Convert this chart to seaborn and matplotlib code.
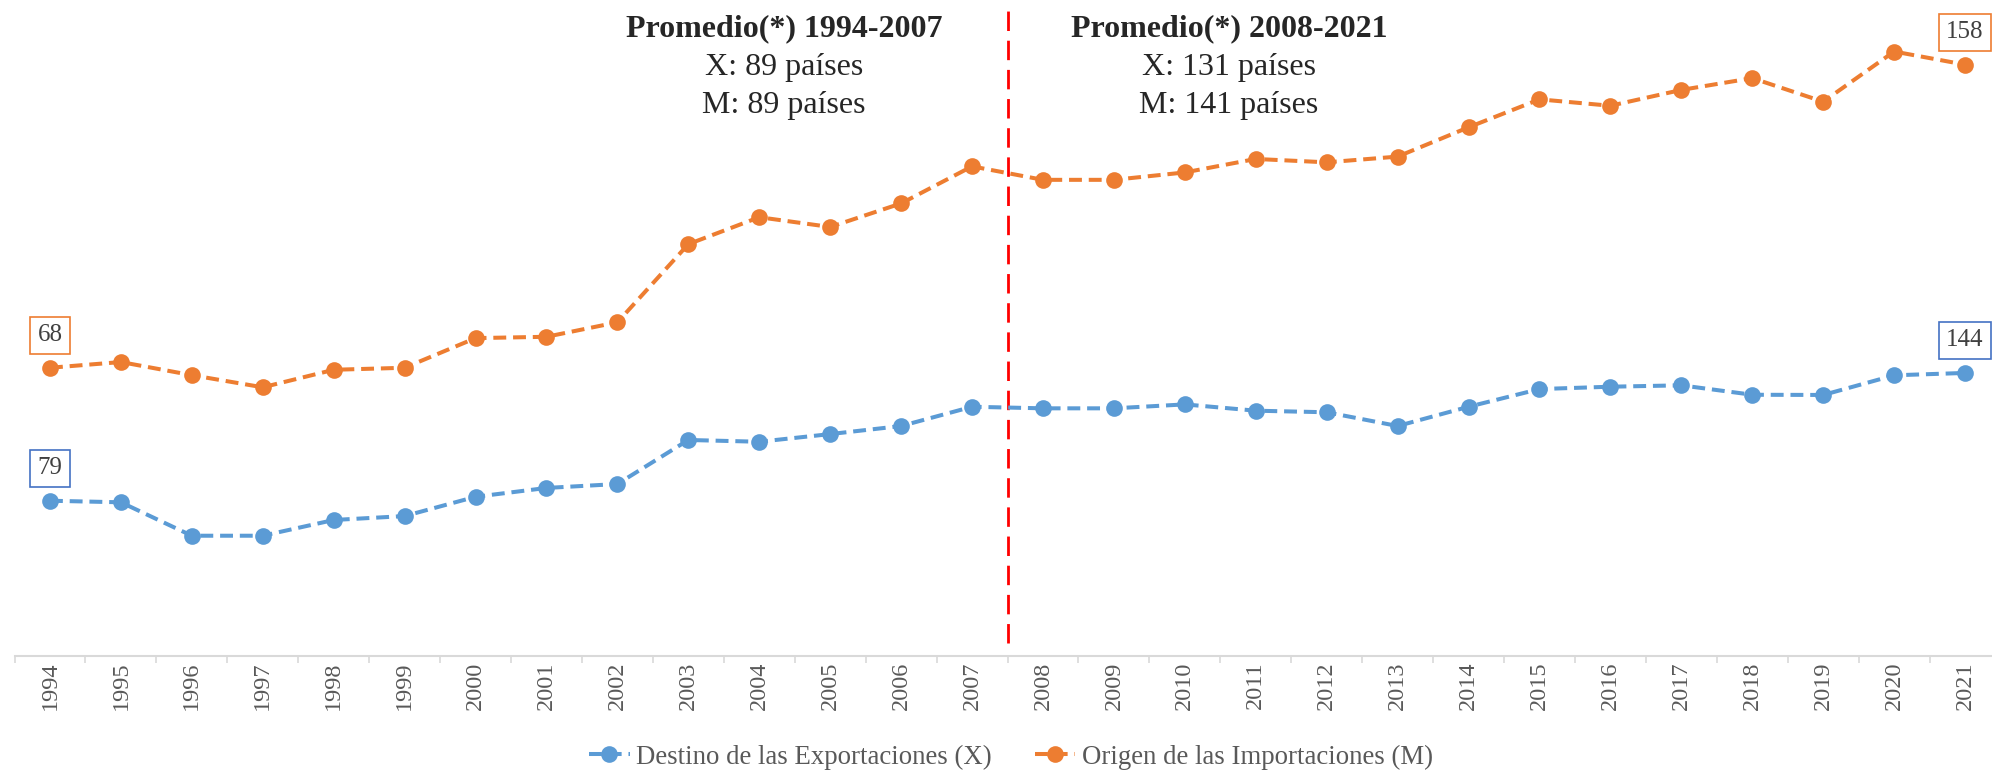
import matplotlib
matplotlib.use("Agg")
import matplotlib.pyplot as plt
from matplotlib.lines import Line2D
import numpy as np
import pandas as pd
import seaborn as sns

# datos
years = list(range(1994, 2022))
destino_x = [79.0, 78.2, 61.2, 61.2, 69.2, 71.2, 81.0, 85.5, 87.5, 109.9,
             109.0, 112.9, 117.0, 126.8, 126.0, 126.0, 128.0, 124.8, 124.0, 117.0,
             126.8, 135.8, 137.0, 137.7, 132.9, 132.8, 142.8, 144.0]
origen_m = [68.0, 69.7, 65.8, 62.2, 67.4, 68.0, 76.8, 77.2, 81.5, 104.7,
            112.7, 109.8, 116.8, 127.8, 123.8, 123.8, 126.0, 130.0, 129.0, 130.7,
            139.4, 147.7, 145.8, 150.5, 154.0, 147.0, 161.9, 158.0]
label_x = "Destino de las Exportaciones (X)"
label_m = "Origen de las Importaciones (M)"
bloques = [
    ("Promedio(*) 1994-2007", "X: 89 países", "M: 89 países"),
    ("Promedio(*) 2008-2021", "X: 131 países", "M: 141 países"),
]

df = pd.DataFrame({"anio": years, "X": destino_x, "M": origen_m})

sns.set_style("white")
plt.rcParams["font.family"] = ["Liberation Serif", "DejaVu Serif"]

c_x = "#5B9BD5"
c_m = "#ED7D31"
gris = "#595959"

fig = plt.figure(figsize=(19.92, 7.70), dpi=100)
ax = fig.add_axes([0.00728, 0.148, 0.997, 0.852])
ax2 = ax.twinx()

estilo = dict(marker="o", markersize=12, markeredgewidth=0, linewidth=2.9,
              linestyle=(0, (3.2, 1.7)))
sns.lineplot(data=df, x="anio", y="X", ax=ax, color=c_x, **estilo)
sns.lineplot(data=df, x="anio", y="M", ax=ax2, color=c_m, **estilo)

ax.set_xlim(years[0] - 0.5, years[-1] + 0.5)
ax.set_ylim(0, 333.7)
ax2.set_ylim(-17.6, 177.2)

for a in (ax, ax2):
    a.set_ylabel("")
    a.set_xlabel("")
    a.set_yticks([])
    for s in ("left", "right", "top"):
        a.spines[s].set_visible(False)
ax2.spines["bottom"].set_visible(False)
ax.spines["bottom"].set_color("#D9D9D9")
ax.spines["bottom"].set_linewidth(1.5)

ax.set_xticks(years)
ax.set_xticklabels([str(y) for y in years], rotation=90, fontsize=17.5, color=gris)
ax.set_xticks(np.arange(years[0] - 0.5, years[-1] + 1), minor=True)
ax.tick_params(axis="x", which="major", length=0, pad=4)
ax.tick_params(axis="x", which="minor", length=5, width=1.2, color="#D9D9D9", bottom=True)

# linea de corte entre periodos
corte = (2007 + 2008) / 2
ax.axvline(corte, ymin=0.02, ymax=0.99, color="#FF0000", linewidth=2,
           linestyle=(0, (7, 3.5)), zorder=1)

# etiquetas de datos
def etiqueta(a, x, y, txt, borde):
    a.annotate(txt, (x, y), xytext=(0, 23.5), textcoords="offset points",
               ha="center", va="center", fontsize=18, color="#404040",
               bbox=dict(boxstyle="square,pad=0.3", fc="white", ec=borde, lw=1.2))

etiqueta(ax, years[0], destino_x[0], f"{destino_x[0]:.0f}", "#4472C4")
etiqueta(ax, years[-1], destino_x[-1], f"{destino_x[-1]:.0f}", "#4472C4")
etiqueta(ax2, years[0], origen_m[0], f"{origen_m[0]:.0f}", c_m)
etiqueta(ax2, years[-1], origen_m[-1], f"{origen_m[-1]:.0f}", c_m)

# textos de promedios
for cx, (t1, t2, t3) in zip([784 / 1992, 1229 / 1992], bloques):
    fig.text(cx, 1 - 29 / 770, t1, ha="center", va="center", fontsize=23, fontweight="bold")
    fig.text(cx, 1 - 68 / 770, t2, ha="center", va="center", fontsize=23)
    fig.text(cx, 1 - 106 / 770, t3, ha="center", va="center", fontsize=23)

handles = [
    Line2D([], [], color=c_x, **estilo),
    Line2D([], [], color=c_m, **estilo),
]
leg = fig.legend(handles, [label_x, label_m], loc="center",
                 bbox_to_anchor=(1011 / 1992, 13 / 770), ncol=2, frameon=False,
                 fontsize=19.3, handlelength=1.5, handletextpad=0.25,
                 columnspacing=1.6)
for t in leg.get_texts():
    t.set_color(gris)

fig.savefig("out.png", dpi=100)
